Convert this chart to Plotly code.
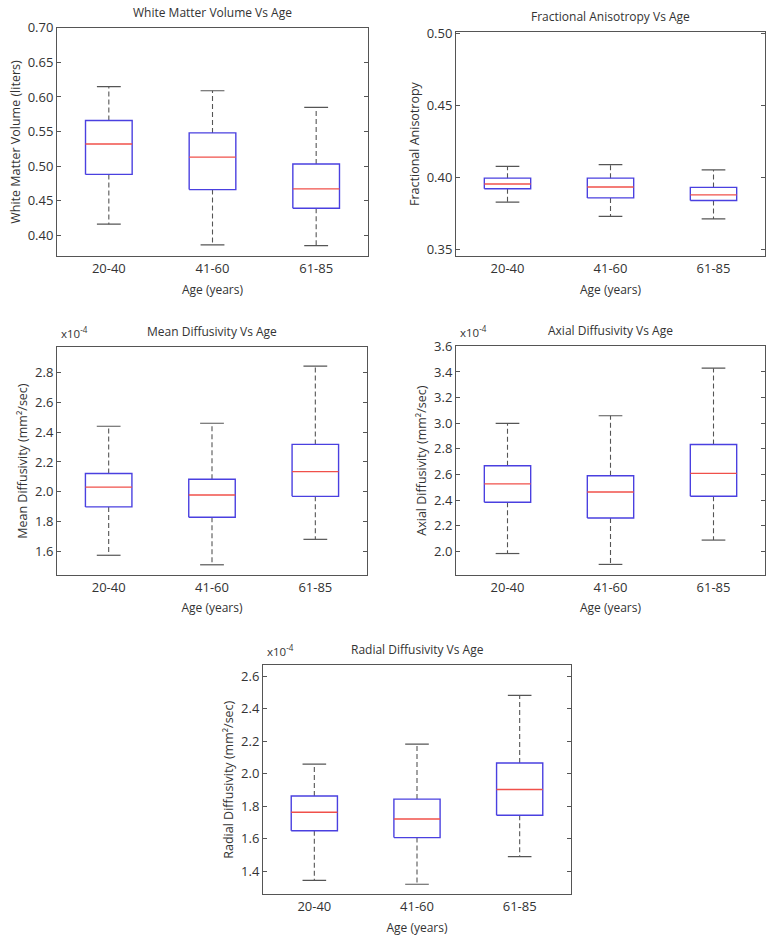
import plotly.graph_objects as go

categories = ["20-40", "41-60", "61-85"]

# box statistics: lower whisker, Q1, median, Q3, upper whisker
wmv_lower = [0.416, 0.386, 0.385]
wmv_q1 = [0.488, 0.466, 0.439]
wmv_median = [0.532, 0.513, 0.467]
wmv_q3 = [0.566, 0.548, 0.503]
wmv_upper = [0.615, 0.609, 0.585]

fa_lower = [0.3826, 0.3728, 0.3710]
fa_q1 = [0.3920, 0.3856, 0.3838]
fa_median = [0.3952, 0.3932, 0.3877]
fa_q3 = [0.3993, 0.3993, 0.3929]
fa_upper = [0.4075, 0.4087, 0.4050]

md_lower = [1.573, 1.509, 1.680]
md_q1 = [1.898, 1.828, 1.969]
md_median = [2.031, 1.978, 2.135]
md_q3 = [2.122, 2.084, 2.318]
md_upper = [2.440, 2.460, 2.844]

ad_lower = [1.982, 1.897, 2.087]
ad_q1 = [2.383, 2.259, 2.429]
ad_median = [2.526, 2.462, 2.608]
ad_q3 = [2.668, 2.590, 2.834]
ad_upper = [2.999, 3.058, 3.430]

rd_lower = [1.343, 1.319, 1.489]
rd_q1 = [1.648, 1.606, 1.744]
rd_median = [1.762, 1.721, 1.902]
rd_q3 = [1.862, 1.843, 2.065]
rd_upper = [2.059, 2.181, 2.482]

panels = [
    dict(title="White Matter Volume Vs Age", ytitle="White Matter Volume (liters)",
         stats=(wmv_lower, wmv_q1, wmv_median, wmv_q3, wmv_upper),
         yrange=[0.3695, 0.700], ticks=[0.40, 0.45, 0.50, 0.55, 0.60, 0.65, 0.70],
         fmt="%.2f", exp=False, px=(57, 368, 19, 250)),
    dict(title="Fractional Anisotropy Vs Age", ytitle="Fractional Anisotropy",
         stats=(fa_lower, fa_q1, fa_median, fa_q3, fa_upper),
         yrange=[0.345, 0.501], ticks=[0.35, 0.40, 0.45, 0.50],
         fmt="%.2f", exp=False, px=(456, 765, 23, 250)),
    dict(title="Mean Diffusivity Vs Age", ytitle="Mean Diffusivity (mm²/sec)",
         stats=(md_lower, md_q1, md_median, md_q3, md_upper),
         yrange=[1.441, 2.970], ticks=[1.6, 1.8, 2.0, 2.2, 2.4, 2.6, 2.8],
         fmt="%.1f", exp=True, px=(57, 367, 342, 572)),
    dict(title="Axial Diffusivity Vs Age", ytitle="Axial Diffusivity (mm²/sec)",
         stats=(ad_lower, ad_q1, ad_median, ad_q3, ad_upper),
         yrange=[1.815, 3.600], ticks=[2.0, 2.2, 2.4, 2.6, 2.8, 3.0, 3.2, 3.4, 3.6],
         fmt="%.1f", exp=True, px=(456, 765, 341, 572)),
    dict(title="Radial Diffusivity Vs Age", ytitle="Radial Diffusivity (mm²/sec)",
         stats=(rd_lower, rd_q1, rd_median, rd_q3, rd_upper),
         yrange=[1.256, 2.669], ticks=[1.4, 1.6, 1.8, 2.0, 2.2, 2.4, 2.6],
         fmt="%.1f", exp=True, px=(263, 571, 663, 895)),
]

W, H = 767, 939
FONT = "Open Sans"
TXT = "#333333"
BOX_C = "#4a40e0"
MED_C = "#f0504a"
WHISK_C = "#555555"
HALF = 0.225      # half box width (category units)
CAP = 0.115       # half cap width

fig = go.Figure()
annotations = []
layout = {}

for i, p in enumerate(panels):
    n = "" if i == 0 else str(i + 1)
    xa, ya = "x" + n, "y" + n
    lo, q1, med, q3, up = p["stats"]
    pos = [k + 1 for k in range(len(categories))]

    wx, wy, cx, cy, bx, by, mx, my = [], [], [], [], [], [], [], []
    for k, xc in enumerate(pos):
        wx += [xc, xc, None, xc, xc, None]
        wy += [q3[k], up[k], None, q1[k], lo[k], None]
        cx += [xc - CAP, xc + CAP, None, xc - CAP, xc + CAP, None]
        cy += [up[k], up[k], None, lo[k], lo[k], None]
        bx += [xc - HALF, xc + HALF, xc + HALF, xc - HALF, xc - HALF, None]
        by += [q1[k], q1[k], q3[k], q3[k], q1[k], None]
        mx += [xc - HALF, xc + HALF, None]
        my += [med[k], med[k], None]

    common = dict(mode="lines", showlegend=False, hoverinfo="skip", xaxis=xa, yaxis=ya)
    fig.add_trace(go.Scatter(x=wx, y=wy, line=dict(color=WHISK_C, width=1.1, dash="5px,3px"), **common))
    fig.add_trace(go.Scatter(x=cx, y=cy, line=dict(color=WHISK_C, width=1.2), **common))
    fig.add_trace(go.Scatter(x=bx, y=by, line=dict(color=BOX_C, width=1.4), **common))
    fig.add_trace(go.Scatter(x=mx, y=my, line=dict(color=MED_C, width=1.4), **common))

    l, r, t, b = p["px"]
    dom_x = [l / W, r / W]
    dom_y = [1 - b / H, 1 - t / H]
    axis_common = dict(showline=True, linecolor="#555555", linewidth=1,
                       showgrid=False, zeroline=False)
    layout["xaxis" + n] = dict(domain=dom_x, range=[0.5, 3.5], tickvals=pos, ticktext=categories,
                               ticks="", anchor=ya, mirror=True,
                               tickfont=dict(family=FONT, size=13, color=TXT),
                               title=dict(text="Age (years)", standoff=9,
                                          font=dict(family=FONT, size=12, color=TXT)),
                               **axis_common)
    layout["yaxis" + n] = dict(domain=dom_y, range=p["yrange"], tickvals=p["ticks"],
                               ticktext=[p["fmt"] % v for v in p["ticks"]],
                               ticks="inside", ticklen=4, tickcolor="#555555", anchor=xa,
                               mirror="ticks",
                               tickfont=dict(family=FONT, size=13, color=TXT),
                               title=dict(text=p["ytitle"], standoff=4,
                                          font=dict(family=FONT, size=12.5, color=TXT)),
                               **axis_common)
    annotations.append(dict(text=p["title"], xref=xa + " domain", yref=ya + " domain",
                            x=0.5, y=1, xanchor="center", yanchor="bottom", yshift=5,
                            showarrow=False, font=dict(family=FONT, size=12, color=TXT)))
    if p["exp"]:
        annotations.append(dict(text="x10<sup>-4</sup>", xref=xa + " domain", yref=ya + " domain",
                                x=0, y=1, xanchor="left", yanchor="bottom", yshift=4, xshift=2,
                                showarrow=False, font=dict(family=FONT, size=11.5, color=TXT)))

fig.update_layout(width=W, height=H, margin=dict(l=0, r=0, t=0, b=0),
                  paper_bgcolor="white", plot_bgcolor="white",
                  annotations=annotations, **layout)

fig.write_html("out.html", config={"displayModeBar": False},
               post_script="document.body.style.margin='0';")
